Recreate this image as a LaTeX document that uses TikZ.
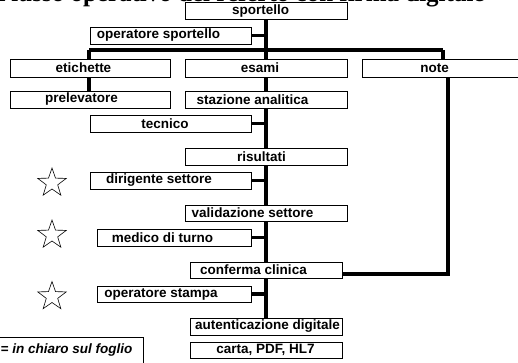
\documentclass[tikz,border=0pt]{standalone}
\usepackage{fontspec}
\newfontfamily\boxfont{Liberation Sans}
\newfontfamily\titlefont{Liberation Serif}
\usetikzlibrary{shapes.geometric,backgrounds}
\tikzset{
  boxn/.style={draw, line width=1pt, fill=white, inner sep=0pt, minimum height=17pt},
  txt/.style={inner sep=0pt, font=\boxfont\fontsize{13.5}{14}\selectfont\bfseries},
  legtxt/.style={inner sep=0pt, anchor=west, font=\boxfont\fontsize{13.5}{14}\selectfont\bfseries\itshape},
  thickline/.style={line width=3.6pt},
  starn/.style={star, star points=5, star point ratio=2.5, draw, line width=0.6pt, minimum size=30pt, inner sep=0pt}
}
\begin{document}
\begin{tikzpicture}[x=1pt, y=-1pt]
\useasboundingbox (0,0) rectangle (518,362);
% title (clipped at top)
\node[anchor=base west, inner sep=0pt, font=\titlefont\fontsize{25}{26}\selectfont\bfseries] (title) at (-4,1.5) {Flusso operativo del referto con firma digitale};
% helper coordinates
\coordinate (busL) at (89,50);
\coordinate (busR) at (443,50);
\coordinate (noteX) at (448,77);
\coordinate (noteC) at (448,274);
\coordinate (confC) at (342,274);
% boxes
\node[boxn, minimum width=162pt] (sportello) at (266,10.75) {};
\node[txt] at (260.5,10.75) {sportello};
\node[boxn, minimum width=161pt] (opsp) at (170.5,35.5) {};
\node[txt] at (158.5,35.5) {operatore sportello};
\node[boxn, minimum width=160pt, minimum height=18pt] (etichette) at (90,68) {};
\node[txt] at (83.5,68) {etichette};
\node[boxn, minimum width=162pt, minimum height=18pt] (esami) at (266,68) {};
\node[txt] at (260,68) {esami};
\node[boxn, minimum width=168pt, minimum height=18pt] (note) at (446,68) {};
\node[txt] at (434.5,68) {note};
\node[boxn, minimum width=160pt] (prelevatore) at (90,99.5) {};
\node[txt] at (81.5,99.5) {prelevatore};
\node[boxn, minimum width=162pt] (stazione) at (266,99.5) {};
\node[txt] at (252.5,99.5) {stazione analitica};
\node[boxn, minimum width=161pt] (tecnico) at (170.5,123.5) {};
\node[txt] at (165,123.5) {tecnico};
\node[boxn, minimum width=162pt] (risultati) at (266,156.5) {};
\node[txt] at (261.5,156.5) {risultati};
\node[boxn, minimum width=161pt] (dirigente) at (170.5,180.5) {};
\node[txt] at (159,180.5) {dirigente settore};
\node[boxn, minimum width=162pt, minimum height=16pt] (validazione) at (266,213) {};
\node[txt] at (252.5,213) {validazione settore};
\node[boxn, minimum width=154pt] (medico) at (174,237.5) {};
\node[txt] at (162.5,237.5) {medico di turno};
\node[boxn, minimum width=152pt, minimum height=16pt] (conferma) at (266,270) {};
\node[txt] at (253.5,270) {conferma clinica};
\node[boxn, minimum width=154pt, minimum height=16pt] (opstampa) at (174,294) {};
\node[txt] at (161,294) {operatore stampa};
\node[boxn, minimum width=152pt] (autent) at (266,326.5) {};
\node[txt] at (267.5,326.5) {autenticazione digitale};
\node[boxn, minimum width=152pt, minimum height=16pt] (carta) at (266,350) {};
\node[txt] at (265.5,350) {carta, PDF, HL7};
\node[boxn, minimum width=160pt, minimum height=40pt] (legend) at (63,357) {};
\node[legtxt] at (0.5,349.5) {= in chiaro sul foglio};
% stars
\node[starn] (s1) at (52,183) {};
\node[starn] (s2) at (52,235) {};
\node[starn] (s3) at (52,296.5) {};
% connectors behind boxes
\begin{pgfonlayer}{background}
\draw[thickline] (sportello.south) -- (autent.north);
\draw[thickline] (busL) -- (busR);
\draw[thickline] (busL) -- (busL |- prelevatore.north);
\draw[thickline] (busR) -- (busR |- note.north);
\draw[thickline] (noteX) -- (noteC) -- (confC);
\draw[thickline] (opsp.east) -- (opsp.east -| sportello.south);
\draw[thickline] (tecnico.east) -- (tecnico.east -| sportello.south);
\draw[thickline] (dirigente.east) -- (dirigente.east -| sportello.south);
\draw[thickline] (medico.east) -- (medico.east -| sportello.south);
\draw[thickline] (opstampa.east) -- (opstampa.east -| sportello.south);
\end{pgfonlayer}
\end{tikzpicture}
\end{document}
